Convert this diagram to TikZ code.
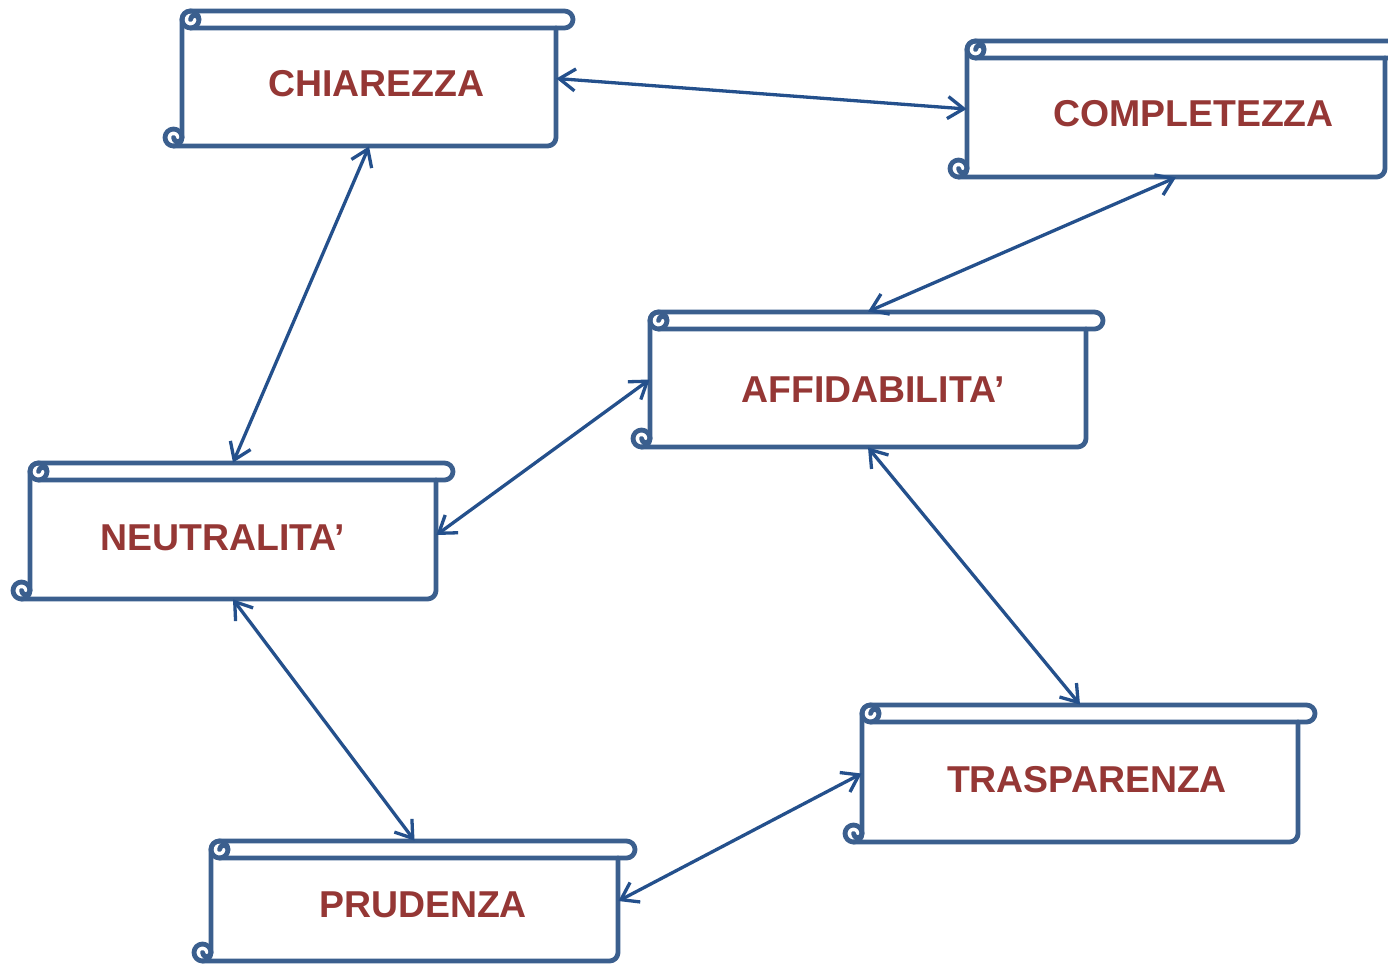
\documentclass[tikz,border=0pt]{standalone}
\usepackage{fontspec}
\setmainfont{Liberation Sans}
\usetikzlibrary{arrows.meta,fit}
\definecolor{scrollblue}{HTML}{3B5F8E}
\definecolor{arrowblue}{HTML}{24508C}
\definecolor{textred}{HTML}{953735}
\tikzset{
  scrollline/.style={draw=scrollblue, line width=2.4pt, line cap=round, line join=round},
  lbl/.style={text=textred, font=\fontsize{18.7pt}{22pt}\selectfont\bfseries, inner sep=0pt},
  conn/.style={draw=arrowblue, line width=1.65pt, {Straight Barb[length=8pt,width=11pt]}-{Straight Barb[length=8pt,width=11pt]}},
}
\newcommand\scrollshape[8]{%
  \pgfmathsetmacro\xa{#2+17}%
  \pgfmathsetmacro\xb{#4-17}%
  \draw[scrollline] (\xa,#5-8.5) -- (\xa,#3+8.5) arc[start angle=180,end angle=270,radius=8.5]
     -- (#4-8.5,#3) arc[start angle=270,end angle=450,radius=8.5] -- (\xa+8.5,#3+17);
  \draw[scrollline] (\xa+8.5,#3+8.5) circle[radius=8.5];
  \draw[scrollline] (\xa+8.5,#3+8.5) arc[start angle=180,end angle=360,radius=4.25];
  \draw[scrollline] (#2+8.5,#5-8.5) circle[radius=8.5];
  \draw[scrollline] (#2+8.5,#5) -- (\xb-8.5,#5) arc[start angle=90,end angle=0,radius=8.5] -- (\xb,#3+17);
  \draw[scrollline] (#2+8.5,#5-8.5) arc[start angle=180,end angle=0,radius=4.25];
  \node[fit={(\xa,#3) (\xb,#5)}, inner sep=0pt] (#1) {};
  \node[lbl] (#1-t) at (#7,#8) {#6};
}
\begin{document}
\begin{tikzpicture}[x=0.5pt,y=-0.5pt]
\useasboundingbox (0,0) rectangle (1388,964);
\clip (0,0) rectangle (1388,964);
\fill[white] (0,0) rectangle (1388,964);
\scrollshape{chi}{165}{11}{573}{146}{CHIAREZZA}{376.5}{84}
\scrollshape{com}{950}{41}{1402}{177}{COMPLETEZZA}{1193.5}{113.5}
\scrollshape{aff}{633}{312}{1103}{447}{AFFIDABILITA’}{873}{390}
\scrollshape{neu}{13}{463}{453}{599}{NEUTRALITA’}{223}{537.5}
\scrollshape{tra}{845}{705}{1315}{842}{TRASPARENZA}{1087}{779.5}
\scrollshape{pru}{194}{841}{635}{961}{PRUDENZA}{423}{904.5}
\draw[conn] (chi.east) -- (com.west);
\draw[conn] (chi.south) -- (neu.north);
\draw[conn] (com.south) -- (aff.north);
\draw[conn] (aff.west) -- ([yshift=-2pt]neu.east);
\draw[conn] (aff.south) -- (tra.north);
\draw[conn] (neu.south) -- (pru.north);
\draw[conn] (tra.west) -- (pru.east);
\end{tikzpicture}
\end{document}
